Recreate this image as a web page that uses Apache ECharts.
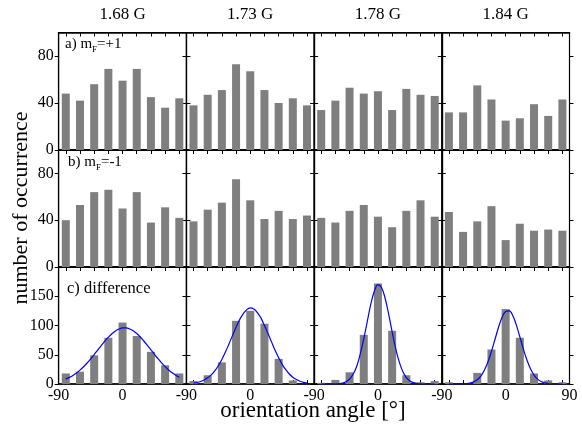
<!DOCTYPE html>
<html>
<head>
<meta charset="utf-8">
<script src="https://cdn.jsdelivr.net/npm/echarts@6/dist/echarts.min.js"></script>
<style>
  html, body { margin: 0; padding: 0; background: #fff; }
  #chart { width: 582px; height: 432px; }
</style>
</head>
<body>
<div id="chart"></div>
<script>
// bin centres (deg) and column titles
const angles = [-80, -60, -40, -20, 0, 20, 40, 60, 80];
const fields = ['1.68 G', '1.73 G', '1.78 G', '1.84 G'];

// a) mF=+1
const plus168 = [48, 42, 56, 69, 59, 69, 45, 36, 44];
const plus173 = [38, 47, 51, 73, 67, 51, 40, 44, 38];
const plus178 = [34, 42, 53, 48, 50, 34, 52, 47, 46];
const plus184 = [32, 32, 55, 43, 25, 27, 39, 29, 43];
// b) mF=-1
const minus168 = [40, 53, 64, 66, 50, 64, 38, 51, 42];
const minus173 = [39, 49, 55, 75, 57, 41, 48, 41, 44];
const minus178 = [42, 38, 48, 53, 43, 34, 48, 57, 43];
const minus184 = [47, 30, 39, 52, 23, 37, 31, 32, 31];
// c) difference
const diff168 = [18, 21, 49, 79, 105, 82, 55, 32, 18];
const diff173 = [5, 15, 37, 108, 125, 103, 43, 6, 0];
const diff178 = [2, 7, 20, 84, 172, 91, 15, 3, 5];
const diff184 = [3, 0, 19, 59, 128, 79, 18, 6, 3];

// fitted curves, every 5 deg from -80 to 80
const fitAngles = [-80, -75, -70, -65, -60, -55, -50, -45, -40, -35, -30, -25, -20, -15, -10, -5, 0,
                   5, 10, 15, 20, 25, 30, 35, 40, 45, 50, 55, 60, 65, 70, 75, 80];
const fit168 = [8.4, 11.3, 14.7, 18.9, 23.8, 29.5, 35.9, 42.9, 50.3, 58, 65.8, 73.2, 80, 86, 90.7, 94, 95.8,
                95.8, 94.1, 90.9, 86.2, 80.3, 73.5, 66.1, 58.4, 50.7, 43.2, 36.2, 29.7, 24, 19.1, 14.9, 11.4];
const fit173 = [1.5, 2.6, 4.3, 6.8, 10.5, 15.6, 22.4, 31.2, 42, 54.5, 68.4, 83, 97, 110, 120, 127, 130,
                128, 122, 113, 100, 86.5, 72, 57.7, 45, 33.6, 24.4, 17.1, 11.6, 7.6, 4.8, 2.9, 1.7];
const fit178 = [0, 0, 0, 0.1, 0.2, 0.6, 1.6, 3.8, 8.4, 16.7, 30, 51, 77, 107, 137, 159, 170,
                165, 147, 120, 89, 60.5, 37.7, 21.4, 11, 5.3, 2.3, 0.9, 0.2, 0, 0, 0, 0];
const fit184 = [0, 0, 0, 0, 0.3, 0.7, 1.7, 3.6, 7.3, 13.6, 23.6, 37.7, 55.8, 76.5, 97, 114, 124,
                125, 117, 101, 80.7, 59.8, 41, 26, 15.3, 8.3, 4.2, 2, 0.8, 0.3, 0, 0, 0];

// tick labels
const countTicks = [0, 40, 80];
const diffTicks = [0, 50, 100, 150];

const rows = [
  { bars: [plus168, plus173, plus178, plus184], max: 100, ticks: countTicks },
  { bars: [minus168, minus173, minus178, minus184], max: 100, ticks: countTicks },
  { bars: [diff168, diff173, diff178, diff184], max: 200, ticks: diffTicks, fits: [fit168, fit173, fit178, fit184] }
];

const colLeft = [58.7, 186.4, 314.1, 441.8];
const colW = 127.7;
const rowTop = [32.5, 150, 267];
const rowH = [117.5, 117, 117];

const serif = "'Liberation Serif', 'DejaVu Serif', serif";
const grid = [], xAxis = [], yAxis = [], series = [];

rows.forEach((row, r) => {
  for (let c = 0; c < 4; c++) {
    const g = grid.length;
    grid.push({
      left: colLeft[c], top: rowTop[r], width: colW, height: rowH[r],
      show: true, borderColor: '#000', borderWidth: 1, outerBoundsMode: 'none'
    });
    const labelVals = r === 2 ? (c === 3 ? [-90, 0, 90] : [-90, 0]) : [];
    // bottom and top x axes
    xAxis.push({
      type: 'value', gridIndex: g, min: -90, max: 90, interval: 90, position: 'bottom',
      axisLine: { show: true, onZero: false, lineStyle: { color: '#000', width: 1.5 } },
      axisTick: { show: true, inside: true, length: 4, customValues: angles, lineStyle: { color: '#000' } },
      axisLabel: { show: r === 2, customValues: labelVals, margin: 4, color: '#000',
                   fontFamily: serif, fontSize: 16 },
      splitLine: { show: false }
    });
    xAxis.push({
      type: 'value', gridIndex: g, min: -90, max: 90, interval: 90, position: 'top',
      axisLine: { show: true, onZero: false, lineStyle: { color: '#000', width: 1.5 } },
      axisTick: { show: true, inside: true, length: 4, customValues: angles, lineStyle: { color: '#000' } },
      axisLabel: { show: false }, splitLine: { show: false }
    });
    // left and right y axes
    yAxis.push({
      type: 'value', gridIndex: g, min: 0, max: row.max, position: 'left',
      axisLine: { show: true, onZero: false, lineStyle: { color: '#000', width: 1.2 } },
      axisTick: { show: true, inside: false, length: 4, customValues: row.ticks, lineStyle: { color: '#000' } },
      axisLabel: { show: c === 0, customValues: row.ticks, margin: 5, color: '#000',
                   fontFamily: serif, fontSize: 16 },
      splitLine: { show: false }
    });
    yAxis.push({
      type: 'value', gridIndex: g, min: 0, max: row.max, position: 'right',
      axisLine: { show: true, onZero: false, lineStyle: { color: '#000', width: 1.2 } },
      axisTick: { show: true, inside: false, length: 4, customValues: row.ticks, lineStyle: { color: '#000' } },
      axisLabel: { show: false }, splitLine: { show: false }
    });
    series.push({
      type: 'bar', xAxisIndex: 2 * g, yAxisIndex: 2 * g, barWidth: 8,
      itemStyle: { color: '#7f7f7f' },
      data: angles.map((a, i) => [a, row.bars[c][i]]),
      silent: true, animation: false
    });
    if (row.fits) {
      series.push({
        type: 'line', xAxisIndex: 2 * g, yAxisIndex: 2 * g, smooth: 0.4, showSymbol: false,
        lineStyle: { color: '#0000ff', width: 1.2 },
        data: fitAngles.map((a, i) => [a, row.fits[c][i]]),
        silent: true, animation: false, z: 3
      });
    }
  }
});

const txt = (size) => ({ fontFamily: serif, fontSize: size, fill: '#000' });

const graphic = fields.map((f, c) => ({
  type: 'text', x: colLeft[c] + colW / 2, y: 15,
  style: Object.assign({ text: f, align: 'center', verticalAlign: 'middle' }, txt(17))
}));

const labelRich = {
  a: { fontFamily: serif, fontSize: 15, color: '#000' },
  s: { fontFamily: serif, fontSize: 9, color: '#000', padding: [10, 0, 0, 0] }
};
graphic.push(
  { type: 'text', left: 65, top: 37, style: { text: '{a|a) m}{s|F}{a|=+1}', rich: labelRich } },
  { type: 'text', left: 68, top: 155, style: { text: '{a|b) m}{s|F}{a|=-1}', rich: labelRich } },
  { type: 'text', left: 67, top: 280, style: Object.assign({ text: 'c) difference' }, txt(16.5)) },
  { type: 'text', x: 313, y: 411,
    style: Object.assign({ text: 'orientation angle [°]', align: 'center', verticalAlign: 'middle' }, txt(23)) },
  { type: 'text', x: 21, y: 208, rotation: Math.PI / 2,
    style: Object.assign({ text: 'number of occurrence', align: 'center', verticalAlign: 'middle' }, txt(22)) }
);

const chart = echarts.init(document.getElementById('chart'), null, { renderer: 'canvas' });
chart.setOption({
  animation: false,
  backgroundColor: '#fff',
  grid, xAxis, yAxis, series, graphic
});
</script>
</body>
</html>
